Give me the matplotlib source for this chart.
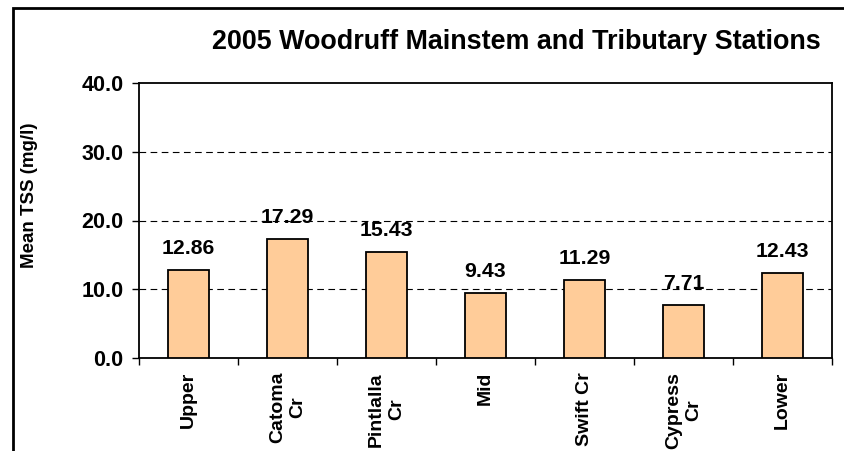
import matplotlib
matplotlib.use("Agg")
from matplotlib import pyplot as plt
from matplotlib.patches import Rectangle
import numpy as np

stations = ["Upper", "Catoma\nCr", "Pintlalla\nCr", "Mid", "Swift Cr", "Cypress\nCr", "Lower"]
mean_tss = [12.86, 17.29, 15.43, 9.43, 11.29, 7.71, 12.43]
y_ticks = [0.0, 10.0, 20.0, 30.0, 40.0]

plt.rcParams["font.family"] = ["Liberation Sans", "DejaVu Sans"]
plt.rcParams["font.weight"] = "bold"

fig = plt.figure(figsize=(8.45, 4.51), dpi=100)
ax = fig.add_axes([139/845, 1 - 358/451, (832 - 139)/845, (358 - 83)/451])

x = np.arange(len(stations))
bars = ax.bar(x, mean_tss, width=0.41, color="#FFCC99", edgecolor="black", linewidth=1.3, zorder=3)

for xi, v in zip(x, mean_tss):
    ax.annotate(f"{v:.2f}", (xi, v), xytext=(0, 11.5), textcoords="offset points",
                ha="center", va="baseline", fontsize=15.3, fontweight="bold", zorder=4)

ax.set_xlim(-0.5, len(stations) - 0.5)
ax.set_ylim(0, 40)
ax.set_yticks(y_ticks)
ax.set_yticklabels([f"{t:.1f}" for t in y_ticks], fontsize=15.5, fontweight="bold")
ax.tick_params(axis="y", direction="out", length=5, width=1, pad=6)

ax.set_xticks(x)
ax.set_xticklabels(stations, rotation=90, fontsize=14, fontweight="bold",
                   va="top", ha="center", multialignment="center")
ax.tick_params(axis="x", which="major", length=0, pad=10)
ax.set_xticks(np.arange(len(stations) + 1) - 0.5, minor=True)
ax.tick_params(axis="x", which="minor", direction="out", length=5, width=1)

for t in [10, 20, 30]:
    ax.axhline(t, color="black", linestyle=(0, (6, 4)), linewidth=0.8, zorder=1)

for s in ax.spines.values():
    s.set_linewidth(1.3)

ax.set_ylabel("Mean TSS (mg/l)", fontsize=13.5, fontweight="bold")
ax.yaxis.set_label_coords((38 - 139)/693, (358 - 195)/275)

fig.text(516/845, 1 - 42/451, "2005 Woodruff Mainstem and Tributary Stations",
         ha="center", va="center", fontsize=19.4, fontweight="bold")

# outer chart frame, open at the bottom
fig.patches.append(Rectangle((13/845, -0.1), 1.0, 1 - 8/451 + 0.1, transform=fig.transFigure,
                             fill=False, edgecolor="black", linewidth=2, clip_on=False))

fig.savefig("out.png", dpi=100)
